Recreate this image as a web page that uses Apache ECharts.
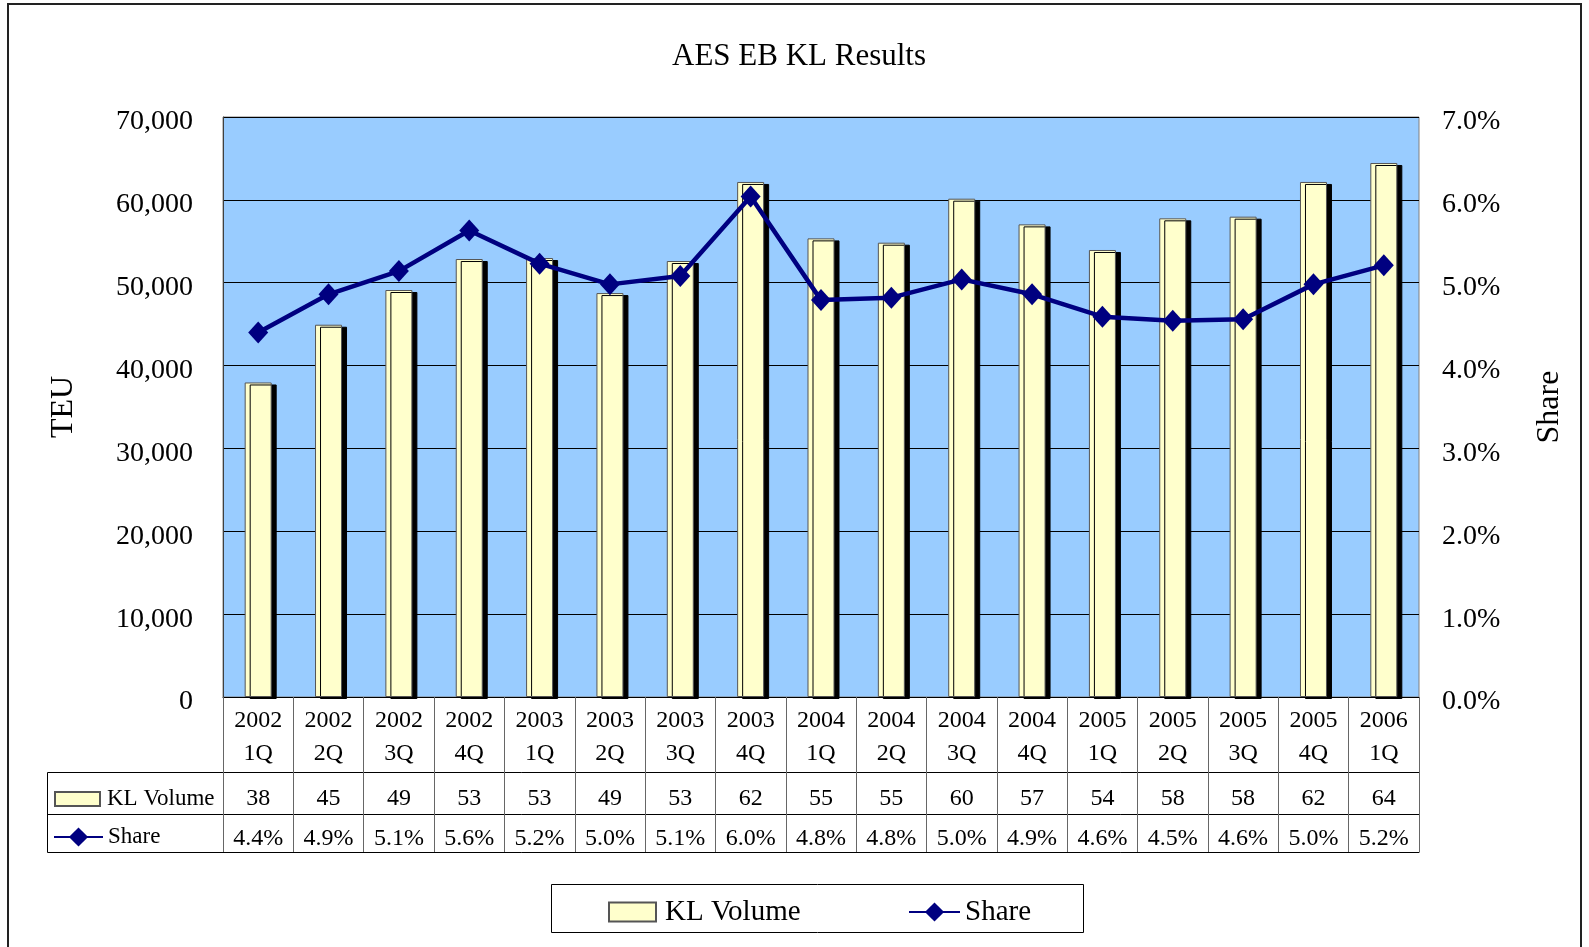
<!DOCTYPE html>
<html>
<head>
<meta charset="utf-8">
<title>AES EB KL Results</title>
<script src="https://cdn.jsdelivr.net/npm/echarts@6.0.0/dist/echarts.min.js"></script>
<style>
  html, body { margin: 0; padding: 0; background: #fff; }
  #chart { width: 1589px; height: 947px; }
</style>
</head>
<body>
<div id="chart"></div>
<script>
// quarters on the x axis (two-line labels, as in the data table)
const quarters = [
  '2002\n1Q', '2002\n2Q', '2002\n3Q', '2002\n4Q',
  '2003\n1Q', '2003\n2Q', '2003\n3Q', '2003\n4Q',
  '2004\n1Q', '2004\n2Q', '2004\n3Q', '2004\n4Q',
  '2005\n1Q', '2005\n2Q', '2005\n3Q', '2005\n4Q',
  '2006\n1Q'
];

// KL volume in TEU
const klVolume = [
  37960, 44930, 49120, 52860,
  52980, 48750, 52620, 62160,
  55350, 54830, 60140, 57040,
  53950, 57770, 57970, 62160,
  64450
];

// KL share in percent
const share = [
  4.40, 4.86, 5.14, 5.63,
  5.23, 4.98, 5.08, 6.04,
  4.79, 4.82, 5.04, 4.86,
  4.59, 4.54, 4.56, 4.98,
  5.21
];

const FONT = 'Liberation Serif';
const NAVY = '#000080';

const chart = echarts.init(document.getElementById('chart'));

// the data table under the plot is made of stacked category axes
const tableAxis = (offset, tickLen, extra) => Object.assign({
  type: 'category',
  gridIndex: 0,
  position: 'bottom',
  offset: offset,
  data: quarters,
  axisLine: { show: true, onZero: false, lineStyle: { color: '#000', width: 1 } },
  axisTick: { show: tickLen > 0, length: tickLen, interval: 0, lineStyle: { color: '#666', width: 1 } },
  axisPointer: { show: false },
  splitLine: { show: false }
}, extra);

const noShadow = { shadowColor: 'transparent', shadowOffsetX: 0, shadowOffsetY: 0 };

const legendItem = (name, left, top, w, h, fontSize, lh, gap) => ({
  data: [name === 'KL Volume' ? { name: name, icon: 'rect' } : name],
  left: left,
  top: top,
  padding: 0,
  itemWidth: w,
  itemHeight: h,
  textStyle: { fontFamily: FONT, fontSize: fontSize, lineHeight: lh, color: '#000', padding: [0, 0, 0, gap] },
  itemStyle: noShadow
});

// value-axis labels sit a little lower than ECharts puts them
const axisText = { t: { fontFamily: FONT, fontSize: 28, color: '#000', padding: [10, 0, 0, 0] } };

chart.setOption({
  backgroundColor: '#fff',
  animation: false,
  title: {
    text: 'AES EB KL Results',
    left: 667,
    top: 36,
    textStyle: { fontFamily: FONT, fontSize: 31, fontWeight: 'normal', color: '#000' }
  },
  legend: [
    // legend box under the table
    legendItem('KL Volume', 608, 897, 47, 19, 29, 30, 4),
    legendItem('Share', 908, 897, 51, 24, 29, 30, 0),
    // row headers of the data table
    legendItem('KL Volume', 54, 787, 45, 14, 23, 24, 2),
    legendItem('Share', 53, 825, 49, 24, 23, 24, 0)
  ],
  grid: {
    left: 223,
    right: 170,
    top: 117,
    bottom: 250,
    show: true,
    backgroundColor: '#99CCFF',
    borderColor: '#808080',
    borderWidth: 1,
    outerBoundsMode: 'none'
  },
  xAxis: [
    tableAxis(0, 75, {
      axisLabel: {
        interval: 0, margin: 7,
        fontFamily: FONT, fontSize: 24, lineHeight: 33, color: '#000'
      }
    }),
    tableAxis(75, 42, {
      axisLabel: {
        interval: 0, margin: 15,
        fontFamily: FONT, fontSize: 24, lineHeight: 24, color: '#000',
        formatter: (v, i) => String(Math.round(klVolume[i] / 1000))
      }
    }),
    tableAxis(117, 38, {
      axisLabel: {
        interval: 0, margin: 13,
        fontFamily: FONT, fontSize: 24, lineHeight: 24, color: '#000',
        formatter: (v, i) => share[i].toFixed(1) + '%'
      }
    }),
    tableAxis(155, 0, { axisLabel: { show: false } })
  ],
  yAxis: [
    {
      type: 'value',
      min: 0,
      max: 70000,
      interval: 10000,
      position: 'left',
      name: 'TEU',
      nameLocation: 'middle',
      nameRotate: 90,
      nameGap: 143,
      nameTextStyle: { fontFamily: FONT, fontSize: 32, color: '#000' },
      axisLine: { show: true, lineStyle: { color: '#404040', width: 1 } },
      axisTick: { show: false },
      axisLabel: {
        margin: 30,
        fontFamily: FONT, fontSize: 28, color: '#000',
        formatter: v => '{t|' + v.toLocaleString('en-US') + '}',
        rich: axisText
      },
      splitLine: { show: true, lineStyle: { color: '#000', width: 1 } }
    },
    {
      type: 'value',
      min: 0,
      max: 7,
      interval: 1,
      position: 'right',
      name: 'Share',
      nameLocation: 'middle',
      nameRotate: 90,
      nameGap: 115,
      nameTextStyle: { fontFamily: FONT, fontSize: 32, color: '#000' },
      axisLine: { show: false },
      axisTick: { show: false },
      axisLabel: {
        margin: 23,
        fontFamily: FONT, fontSize: 28, color: '#000',
        formatter: v => '{t|' + v.toFixed(1) + '%}',
        rich: axisText
      },
      splitLine: { show: false }
    }
  ],
  series: [
    {
      name: 'KL Volume',
      type: 'bar',
      xAxisIndex: 0,
      yAxisIndex: 0,
      data: klVolume,
      barWidth: 27,
      itemStyle: {
        color: '#FFFFCC',
        borderColor: '#555',
        borderWidth: 1,
        shadowColor: '#000',
        shadowBlur: 0,
        shadowOffsetX: 5,
        shadowOffsetY: 2
      },
      emphasis: { disabled: true }
    },
    {
      name: 'Share',
      type: 'line',
      xAxisIndex: 0,
      yAxisIndex: 1,
      data: share,
      symbol: 'diamond',
      symbolSize: [20, 22],
      lineStyle: { color: NAVY, width: 4.5 },
      itemStyle: { color: NAVY },
      z: 5,
      emphasis: { disabled: true }
    }
  ],
  graphic: [
    {
      type: 'rect',
      shape: { x: 8, y: 4, width: 1573, height: 970 },
      style: { fill: 'none', stroke: '#222', lineWidth: 2 },
      silent: true
    },
    // legend frame
    {
      type: 'rect',
      shape: { x: 551.5, y: 884.5, width: 532, height: 48 },
      style: { fill: 'none', stroke: '#000', lineWidth: 1 },
      silent: true
    },
    // left header column of the data table
    {
      type: 'polyline',
      shape: { points: [[223, 772.5], [47.5, 772.5], [47.5, 852.5], [223, 852.5]] },
      style: { fill: 'none', stroke: '#000', lineWidth: 1 },
      silent: true
    },
    {
      type: 'line',
      shape: { x1: 47.5, y1: 814.5, x2: 223, y2: 814.5 },
      style: { stroke: '#000', lineWidth: 1 },
      silent: true
    }
  ]
});

window.addEventListener('resize', () => chart.resize());
</script>
</body>
</html>
